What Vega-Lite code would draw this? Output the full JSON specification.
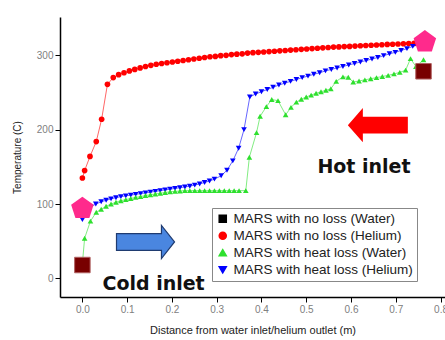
{
  "$schema": "https://vega.github.io/schema/vega-lite/v6.json",
  "width": 385,
  "height": 280,
  "autosize": {"type": "none"},
  "padding": {"left": 60, "top": 17, "right": 0, "bottom": 43},
  "background": "white",
  "config": {"view": {"stroke": null}},
  "datasets": {
    "series": [
      {"s": "MARS with no loss (Helium)", "x": 0.0, "y": 135}, {"s": "MARS with no loss (Helium)", "x": 0.005, "y": 145}, {"s": "MARS with no loss (Helium)", "x": 0.017, "y": 164}, {"s": "MARS with no loss (Helium)", "x": 0.031, "y": 184}, {"s": "MARS with no loss (Helium)", "x": 0.043, "y": 214}, {"s": "MARS with no loss (Helium)", "x": 0.056, "y": 261}, {"s": "MARS with no loss (Helium)", "x": 0.069, "y": 270}, {"s": "MARS with no loss (Helium)", "x": 0.081, "y": 274}, {"s": "MARS with no loss (Helium)", "x": 0.093, "y": 276.5}, {"s": "MARS with no loss (Helium)", "x": 0.105, "y": 279}, {"s": "MARS with no loss (Helium)", "x": 0.117, "y": 281}, {"s": "MARS with no loss (Helium)", "x": 0.129, "y": 283}, {"s": "MARS with no loss (Helium)", "x": 0.141, "y": 285}, {"s": "MARS with no loss (Helium)", "x": 0.153, "y": 286.5}, {"s": "MARS with no loss (Helium)", "x": 0.165, "y": 288}, {"s": "MARS with no loss (Helium)", "x": 0.177, "y": 289}, {"s": "MARS with no loss (Helium)", "x": 0.189, "y": 290}, {"s": "MARS with no loss (Helium)", "x": 0.201, "y": 291}, {"s": "MARS with no loss (Helium)", "x": 0.213, "y": 292}, {"s": "MARS with no loss (Helium)", "x": 0.225, "y": 293}, {"s": "MARS with no loss (Helium)", "x": 0.237, "y": 294}, {"s": "MARS with no loss (Helium)", "x": 0.249, "y": 295}, {"s": "MARS with no loss (Helium)", "x": 0.261, "y": 296}, {"s": "MARS with no loss (Helium)", "x": 0.273, "y": 297}, {"s": "MARS with no loss (Helium)", "x": 0.285, "y": 298}, {"s": "MARS with no loss (Helium)", "x": 0.297, "y": 298.5}, {"s": "MARS with no loss (Helium)", "x": 0.309, "y": 299.5}, {"s": "MARS with no loss (Helium)", "x": 0.321, "y": 300}, {"s": "MARS with no loss (Helium)", "x": 0.333, "y": 301}, {"s": "MARS with no loss (Helium)", "x": 0.345, "y": 301.5}, {"s": "MARS with no loss (Helium)", "x": 0.357, "y": 302}, {"s": "MARS with no loss (Helium)", "x": 0.369, "y": 303}, {"s": "MARS with no loss (Helium)", "x": 0.381, "y": 303.5}, {"s": "MARS with no loss (Helium)", "x": 0.393, "y": 304}, {"s": "MARS with no loss (Helium)", "x": 0.405, "y": 304.5}, {"s": "MARS with no loss (Helium)", "x": 0.417, "y": 305}, {"s": "MARS with no loss (Helium)", "x": 0.429, "y": 305.5}, {"s": "MARS with no loss (Helium)", "x": 0.441, "y": 306}, {"s": "MARS with no loss (Helium)", "x": 0.453, "y": 306.5}, {"s": "MARS with no loss (Helium)", "x": 0.465, "y": 307}, {"s": "MARS with no loss (Helium)", "x": 0.477, "y": 307.5}, {"s": "MARS with no loss (Helium)", "x": 0.489, "y": 308}, {"s": "MARS with no loss (Helium)", "x": 0.501, "y": 308.5}, {"s": "MARS with no loss (Helium)", "x": 0.513, "y": 309}, {"s": "MARS with no loss (Helium)", "x": 0.525, "y": 309.5}, {"s": "MARS with no loss (Helium)", "x": 0.537, "y": 310}, {"s": "MARS with no loss (Helium)", "x": 0.549, "y": 310.5}, {"s": "MARS with no loss (Helium)", "x": 0.561, "y": 311}, {"s": "MARS with no loss (Helium)", "x": 0.573, "y": 311.3}, {"s": "MARS with no loss (Helium)", "x": 0.585, "y": 311.7}, {"s": "MARS with no loss (Helium)", "x": 0.597, "y": 312}, {"s": "MARS with no loss (Helium)", "x": 0.609, "y": 312.4}, {"s": "MARS with no loss (Helium)", "x": 0.621, "y": 312.8}, {"s": "MARS with no loss (Helium)", "x": 0.633, "y": 313.2}, {"s": "MARS with no loss (Helium)", "x": 0.645, "y": 313.5}, {"s": "MARS with no loss (Helium)", "x": 0.657, "y": 313.9}, {"s": "MARS with no loss (Helium)", "x": 0.669, "y": 314.2}, {"s": "MARS with no loss (Helium)", "x": 0.681, "y": 314.6}, {"s": "MARS with no loss (Helium)", "x": 0.693, "y": 314.9}, {"s": "MARS with no loss (Helium)", "x": 0.705, "y": 315.2}, {"s": "MARS with no loss (Helium)", "x": 0.717, "y": 315.5}, {"s": "MARS with no loss (Helium)", "x": 0.729, "y": 315.8}, {"s": "MARS with no loss (Helium)", "x": 0.741, "y": 316}, {"s": "MARS with no loss (Helium)", "x": 0.753, "y": 316.3},
      {"s": "MARS with heat loss (Helium)", "x": 0.0, "y": 79}, {"s": "MARS with heat loss (Helium)", "x": 0.007, "y": 88}, {"s": "MARS with heat loss (Helium)", "x": 0.018, "y": 96}, {"s": "MARS with heat loss (Helium)", "x": 0.03, "y": 100}, {"s": "MARS with heat loss (Helium)", "x": 0.042, "y": 103}, {"s": "MARS with heat loss (Helium)", "x": 0.053, "y": 105}, {"s": "MARS with heat loss (Helium)", "x": 0.064, "y": 107}, {"s": "MARS with heat loss (Helium)", "x": 0.075, "y": 108.5}, {"s": "MARS with heat loss (Helium)", "x": 0.086, "y": 110}, {"s": "MARS with heat loss (Helium)", "x": 0.097, "y": 111}, {"s": "MARS with heat loss (Helium)", "x": 0.108, "y": 112}, {"s": "MARS with heat loss (Helium)", "x": 0.119, "y": 113}, {"s": "MARS with heat loss (Helium)", "x": 0.13, "y": 114}, {"s": "MARS with heat loss (Helium)", "x": 0.141, "y": 115}, {"s": "MARS with heat loss (Helium)", "x": 0.152, "y": 116}, {"s": "MARS with heat loss (Helium)", "x": 0.163, "y": 117}, {"s": "MARS with heat loss (Helium)", "x": 0.174, "y": 118}, {"s": "MARS with heat loss (Helium)", "x": 0.185, "y": 119}, {"s": "MARS with heat loss (Helium)", "x": 0.196, "y": 120}, {"s": "MARS with heat loss (Helium)", "x": 0.207, "y": 121}, {"s": "MARS with heat loss (Helium)", "x": 0.218, "y": 122}, {"s": "MARS with heat loss (Helium)", "x": 0.229, "y": 123}, {"s": "MARS with heat loss (Helium)", "x": 0.24, "y": 124}, {"s": "MARS with heat loss (Helium)", "x": 0.251, "y": 125.5}, {"s": "MARS with heat loss (Helium)", "x": 0.262, "y": 127}, {"s": "MARS with heat loss (Helium)", "x": 0.273, "y": 129}, {"s": "MARS with heat loss (Helium)", "x": 0.284, "y": 131}, {"s": "MARS with heat loss (Helium)", "x": 0.295, "y": 133.5}, {"s": "MARS with heat loss (Helium)", "x": 0.31, "y": 138}, {"s": "MARS with heat loss (Helium)", "x": 0.323, "y": 145.5}, {"s": "MARS with heat loss (Helium)", "x": 0.336, "y": 158}, {"s": "MARS with heat loss (Helium)", "x": 0.349, "y": 175}, {"s": "MARS with heat loss (Helium)", "x": 0.361, "y": 200}, {"s": "MARS with heat loss (Helium)", "x": 0.374, "y": 244}, {"s": "MARS with heat loss (Helium)", "x": 0.387, "y": 248}, {"s": "MARS with heat loss (Helium)", "x": 0.4, "y": 251}, {"s": "MARS with heat loss (Helium)", "x": 0.413, "y": 254}, {"s": "MARS with heat loss (Helium)", "x": 0.426, "y": 257}, {"s": "MARS with heat loss (Helium)", "x": 0.439, "y": 260}, {"s": "MARS with heat loss (Helium)", "x": 0.452, "y": 262.5}, {"s": "MARS with heat loss (Helium)", "x": 0.465, "y": 265}, {"s": "MARS with heat loss (Helium)", "x": 0.478, "y": 267.5}, {"s": "MARS with heat loss (Helium)", "x": 0.491, "y": 270}, {"s": "MARS with heat loss (Helium)", "x": 0.504, "y": 272}, {"s": "MARS with heat loss (Helium)", "x": 0.517, "y": 274.5}, {"s": "MARS with heat loss (Helium)", "x": 0.53, "y": 276.5}, {"s": "MARS with heat loss (Helium)", "x": 0.543, "y": 279}, {"s": "MARS with heat loss (Helium)", "x": 0.556, "y": 281}, {"s": "MARS with heat loss (Helium)", "x": 0.569, "y": 283}, {"s": "MARS with heat loss (Helium)", "x": 0.582, "y": 285}, {"s": "MARS with heat loss (Helium)", "x": 0.595, "y": 287}, {"s": "MARS with heat loss (Helium)", "x": 0.608, "y": 289}, {"s": "MARS with heat loss (Helium)", "x": 0.621, "y": 291}, {"s": "MARS with heat loss (Helium)", "x": 0.634, "y": 293}, {"s": "MARS with heat loss (Helium)", "x": 0.647, "y": 295}, {"s": "MARS with heat loss (Helium)", "x": 0.66, "y": 297}, {"s": "MARS with heat loss (Helium)", "x": 0.673, "y": 299.5}, {"s": "MARS with heat loss (Helium)", "x": 0.686, "y": 302}, {"s": "MARS with heat loss (Helium)", "x": 0.699, "y": 304}, {"s": "MARS with heat loss (Helium)", "x": 0.712, "y": 306.5}, {"s": "MARS with heat loss (Helium)", "x": 0.725, "y": 309}, {"s": "MARS with heat loss (Helium)", "x": 0.738, "y": 312}, {"s": "MARS with heat loss (Helium)", "x": 0.751, "y": 315},
      {"s": "MARS with heat loss (Water)", "x": 0.0, "y": 20}, {"s": "MARS with heat loss (Water)", "x": 0.005, "y": 54}, {"s": "MARS with heat loss (Water)", "x": 0.018, "y": 77}, {"s": "MARS with heat loss (Water)", "x": 0.031, "y": 89}, {"s": "MARS with heat loss (Water)", "x": 0.042, "y": 93}, {"s": "MARS with heat loss (Water)", "x": 0.053, "y": 97}, {"s": "MARS with heat loss (Water)", "x": 0.064, "y": 100}, {"s": "MARS with heat loss (Water)", "x": 0.075, "y": 102.5}, {"s": "MARS with heat loss (Water)", "x": 0.086, "y": 104.5}, {"s": "MARS with heat loss (Water)", "x": 0.097, "y": 106}, {"s": "MARS with heat loss (Water)", "x": 0.108, "y": 107.5}, {"s": "MARS with heat loss (Water)", "x": 0.119, "y": 109}, {"s": "MARS with heat loss (Water)", "x": 0.13, "y": 110}, {"s": "MARS with heat loss (Water)", "x": 0.141, "y": 111.5}, {"s": "MARS with heat loss (Water)", "x": 0.152, "y": 112.5}, {"s": "MARS with heat loss (Water)", "x": 0.163, "y": 113.5}, {"s": "MARS with heat loss (Water)", "x": 0.174, "y": 114.5}, {"s": "MARS with heat loss (Water)", "x": 0.185, "y": 115.5}, {"s": "MARS with heat loss (Water)", "x": 0.196, "y": 116.5}, {"s": "MARS with heat loss (Water)", "x": 0.207, "y": 117}, {"s": "MARS with heat loss (Water)", "x": 0.218, "y": 117.5}, {"s": "MARS with heat loss (Water)", "x": 0.229, "y": 118}, {"s": "MARS with heat loss (Water)", "x": 0.24, "y": 118}, {"s": "MARS with heat loss (Water)", "x": 0.251, "y": 118}, {"s": "MARS with heat loss (Water)", "x": 0.262, "y": 118}, {"s": "MARS with heat loss (Water)", "x": 0.273, "y": 118}, {"s": "MARS with heat loss (Water)", "x": 0.284, "y": 118}, {"s": "MARS with heat loss (Water)", "x": 0.295, "y": 118}, {"s": "MARS with heat loss (Water)", "x": 0.306, "y": 118}, {"s": "MARS with heat loss (Water)", "x": 0.317, "y": 118}, {"s": "MARS with heat loss (Water)", "x": 0.328, "y": 118}, {"s": "MARS with heat loss (Water)", "x": 0.339, "y": 118}, {"s": "MARS with heat loss (Water)", "x": 0.35, "y": 118}, {"s": "MARS with heat loss (Water)", "x": 0.365, "y": 118}, {"s": "MARS with heat loss (Water)", "x": 0.373, "y": 163}, {"s": "MARS with heat loss (Water)", "x": 0.389, "y": 196}, {"s": "MARS with heat loss (Water)", "x": 0.397, "y": 218}, {"s": "MARS with heat loss (Water)", "x": 0.411, "y": 231}, {"s": "MARS with heat loss (Water)", "x": 0.423, "y": 240.5}, {"s": "MARS with heat loss (Water)", "x": 0.437, "y": 239}, {"s": "MARS with heat loss (Water)", "x": 0.454, "y": 220}, {"s": "MARS with heat loss (Water)", "x": 0.466, "y": 230}, {"s": "MARS with heat loss (Water)", "x": 0.478, "y": 237}, {"s": "MARS with heat loss (Water)", "x": 0.489, "y": 241}, {"s": "MARS with heat loss (Water)", "x": 0.5, "y": 244}, {"s": "MARS with heat loss (Water)", "x": 0.511, "y": 246.5}, {"s": "MARS with heat loss (Water)", "x": 0.522, "y": 249}, {"s": "MARS with heat loss (Water)", "x": 0.533, "y": 251}, {"s": "MARS with heat loss (Water)", "x": 0.544, "y": 253}, {"s": "MARS with heat loss (Water)", "x": 0.555, "y": 255}, {"s": "MARS with heat loss (Water)", "x": 0.567, "y": 265}, {"s": "MARS with heat loss (Water)", "x": 0.582, "y": 271}, {"s": "MARS with heat loss (Water)", "x": 0.594, "y": 270.5}, {"s": "MARS with heat loss (Water)", "x": 0.605, "y": 264}, {"s": "MARS with heat loss (Water)", "x": 0.618, "y": 265.5}, {"s": "MARS with heat loss (Water)", "x": 0.631, "y": 267}, {"s": "MARS with heat loss (Water)", "x": 0.644, "y": 268.5}, {"s": "MARS with heat loss (Water)", "x": 0.657, "y": 270}, {"s": "MARS with heat loss (Water)", "x": 0.67, "y": 271.5}, {"s": "MARS with heat loss (Water)", "x": 0.683, "y": 273}, {"s": "MARS with heat loss (Water)", "x": 0.696, "y": 275}, {"s": "MARS with heat loss (Water)", "x": 0.709, "y": 277}, {"s": "MARS with heat loss (Water)", "x": 0.722, "y": 280}, {"s": "MARS with heat loss (Water)", "x": 0.733, "y": 295.5}, {"s": "MARS with heat loss (Water)", "x": 0.745, "y": 285}, {"s": "MARS with heat loss (Water)", "x": 0.762, "y": 294}
    ],
    "pents": [{"x": 0.0, "y": 94}, {"x": 0.765, "y": 318}],
    "squares": [{"x": 0.0, "y": 18}, {"x": 0.762, "y": 278.5}],
    "leftArrow": [{"x": 0.66, "y": 206}],
    "rightArrow": [{"x": 0.141, "y": 49}],
    "labels": [{"x": 0.629, "y": 142, "t": "Hot inlet"}, {"x": 0.159, "y": -16, "t": "Cold inlet"}]
  },
  "layer": [
    {
      "data": {"name": "series"},
      "mark": {"type": "point", "filled": true, "opacity": 1, "size": 32},
      "encoding": {
        "x": {
          "field": "x", "type": "quantitative",
          "scale": {"domain": [-0.05, 0.81], "nice": false, "zero": false},
          "axis": {
            "title": "Distance from water inlet/helium outlet (m)",
            "values": [0, 0.1, 0.2, 0.3, 0.4, 0.5, 0.6, 0.7, 0.8],
            "format": ".1f",
            "grid": false,
            "domainColor": "#000000", "domainWidth": 1.5,
            "tickColor": "#000000",
            "labelColor": "#808080", "labelFontSize": 10,
            "titleColor": "#222222", "titleFontSize": 11, "titleFontWeight": "normal", "titlePadding": 10
          }
        },
        "y": {
          "field": "y", "type": "quantitative",
          "scale": {"domain": [-25, 351.5], "nice": false, "zero": false},
          "axis": {
            "title": "Temperature (C)",
            "values": [0, 50, 100, 150, 200, 250, 300, 350],
            "grid": false,
            "domainColor": "#000000", "domainWidth": 1.5,
            "tickColor": "#000000",
            "labelColor": "#808080", "labelFontSize": 10,
            "titleColor": "#222222", "titleFontSize": 10, "titleFontWeight": "normal", "titlePadding": 14
          }
        },
        "shape": {
          "field": "s", "type": "nominal",
          "scale": {
            "domain": ["MARS with no loss (Water)", "MARS with no loss (Helium)", "MARS with heat loss (Water)", "MARS with heat loss (Helium)"],
            "range": ["square", "circle", "triangle-up", "triangle-down"]
          },
          "legend": {
            "title": null,
            "orient": "none",
            "legendX": 152,
            "legendY": 191,
            "padding": 4,
            "strokeColor": "#888888",
            "fillColor": "#ffffff",
            "labelFontSize": 13.5,
            "labelColor": "#222222",
            "labelLimit": 300,
            "rowPadding": 2,
            "symbolSize": 50
          }
        },
        "color": {
          "field": "s", "type": "nominal",
          "scale": {
            "domain": ["MARS with no loss (Water)", "MARS with no loss (Helium)", "MARS with heat loss (Water)", "MARS with heat loss (Helium)"],
            "range": ["#000000", "#ff0000", "#2ee02e", "#0000ff"]
          },
          "legend": {
            "title": null,
            "orient": "none",
            "legendX": 152,
            "legendY": 191,
            "padding": 4,
            "strokeColor": "#888888",
            "fillColor": "#ffffff",
            "labelFontSize": 13.5,
            "labelColor": "#222222",
            "labelLimit": 300,
            "rowPadding": 2,
            "symbolSize": 50
          }
        }
      }
    },
    {
      "data": {"name": "series"},
      "mark": {"type": "line", "strokeWidth": 1, "opacity": 0.6},
      "encoding": {
        "x": {"field": "x", "type": "quantitative"},
        "y": {"field": "y", "type": "quantitative"},
        "color": {"field": "s", "type": "nominal"}
      }
    },
    {
      "data": {"name": "pents"},
      "mark": {"type": "point", "filled": true, "opacity": 1, "color": "#ff2a8c", "size": 560, "shape": "M0,-1L0.951,-0.309L0.588,0.809L-0.588,0.809L-0.951,-0.309Z"},
      "encoding": {"x": {"field": "x", "type": "quantitative"}, "y": {"field": "y", "type": "quantitative"}}
    },
    {
      "data": {"name": "squares"},
      "mark": {"type": "point", "filled": true, "opacity": 1, "color": "#780000", "stroke": "#b06060", "strokeWidth": 1, "size": 240, "shape": "square"},
      "encoding": {"x": {"field": "x", "type": "quantitative"}, "y": {"field": "y", "type": "quantitative"}}
    },
    {
      "data": {"name": "leftArrow"},
      "mark": {"type": "point", "filled": true, "opacity": 1, "color": "#ff0000", "size": 3600, "shape": "M-1,0L-0.5,-0.57L-0.5,-0.28L1,-0.28L1,0.28L-0.5,0.28L-0.5,0.57Z"},
      "encoding": {"x": {"field": "x", "type": "quantitative"}, "y": {"field": "y", "type": "quantitative"}}
    },
    {
      "data": {"name": "rightArrow"},
      "mark": {"type": "point", "filled": true, "opacity": 1, "color": "#4a86e0", "stroke": "#1f3b70", "strokeWidth": 1.2, "size": 3364, "shape": "M1,0L0.55,-0.57L0.55,-0.29L-1,-0.29L-1,0.29L0.55,0.29L0.55,0.57Z"},
      "encoding": {"x": {"field": "x", "type": "quantitative"}, "y": {"field": "y", "type": "quantitative"}}
    },
    {
      "data": {"name": "labels"},
      "mark": {"type": "text", "font": "DejaVu Sans", "fontWeight": "bold", "fontSize": 19, "align": "center", "baseline": "alphabetic", "color": "#111111"},
      "encoding": {"x": {"field": "x", "type": "quantitative"}, "y": {"field": "y", "type": "quantitative"}, "text": {"field": "t"}}
    }
  ]
}
